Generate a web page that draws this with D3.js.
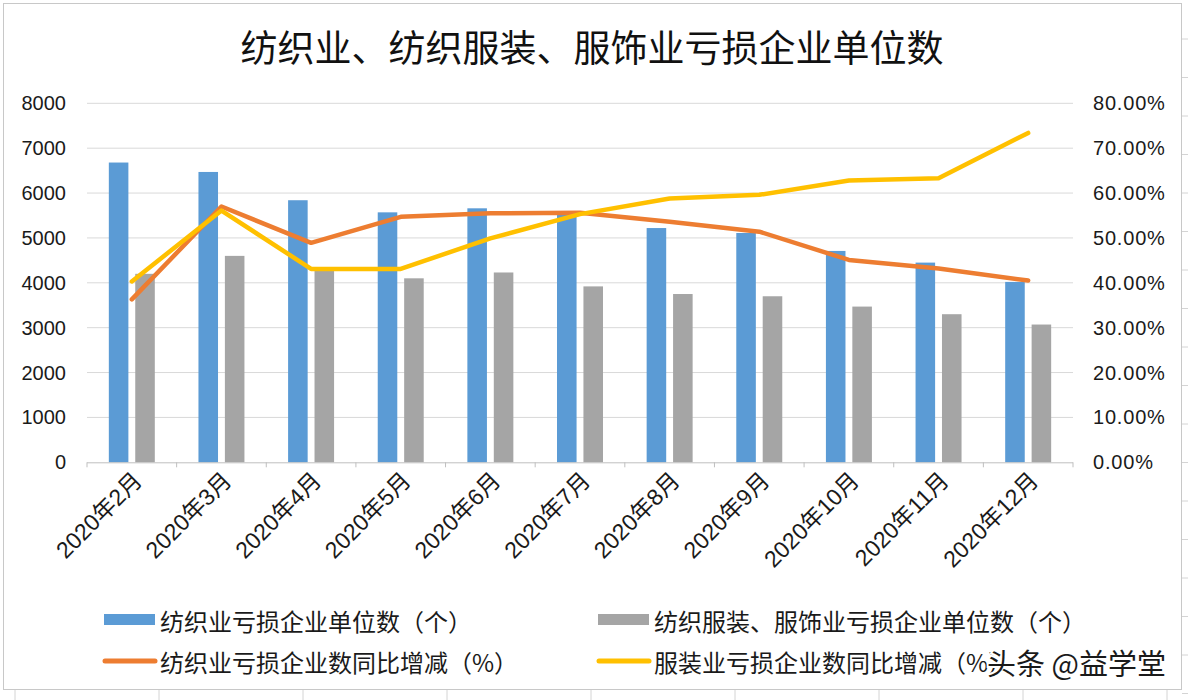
<!DOCTYPE html>
<html><head><meta charset="utf-8">
<script src="https://cdn.jsdelivr.net/npm/d3@7"></script>
<style>
html,body{margin:0;padding:0;background:#fff;}
svg{display:block;}
text{font-family:"Liberation Sans","Noto Sans CJK SC",sans-serif;}
</style></head>
<body>
<svg id="chart" width="1188" height="700"></svg>
<script>
const title = "纺织业、纺织服装、服饰业亏损企业单位数";
const months = ["2020年2月","2020年3月","2020年4月","2020年5月","2020年6月","2020年7月","2020年8月","2020年9月","2020年10月","2020年11月","2020年12月"];
const textileCount = [6680, 6470, 5840, 5570, 5660, 5550, 5220, 5110, 4710, 4450, 4020];
const apparelCount = [4200, 4600, 4300, 4100, 4230, 3920, 3750, 3700, 3470, 3300, 3070];
const textileYoY = [36.3, 57.0, 48.9, 54.7, 55.5, 55.6, 53.6, 51.4, 45.1, 43.2, 40.5];
const apparelYoY = [40.3, 56.1, 43.1, 43.1, 49.9, 55.3, 58.8, 59.6, 62.8, 63.3, 73.4];
const leftTicks = [0,1000,2000,3000,4000,5000,6000,7000,8000];
const rightTicks = [0,10,20,30,40,50,60,70,80];
const seriesNames = ["纺织业亏损企业单位数（个）","纺织服装、服饰业亏损企业单位数（个）","纺织业亏损企业数同比增减（%）","服装业亏损企业数同比增减（%）"];
const colors = ["#5b9bd5","#a5a5a5","#ed7d31","#ffc000"];
const watermark = "头条 @益学堂";

const svg = d3.select("#chart");
const W = 1188, H = 700;
const plot = {left: 87, right: 1073, top: 103.3, bottom: 462.3};

// spreadsheet cell grid outside the chart frame
const gridG = svg.append("g").attr("stroke","#d4d4d4").attr("stroke-width",1);
d3.range(15, W, 144).forEach(x => gridG.append("line").attr("x1",x).attr("x2",x).attr("y1",690).attr("y2",H));
d3.range(39, H, 38.5).forEach(y => gridG.append("line").attr("x1",1182).attr("x2",W).attr("y1",y).attr("y2",y));

// chart frame
svg.append("rect").attr("x",3.5).attr("y",3.5).attr("width",1178).attr("height",686)
  .attr("fill","#fff").attr("stroke","#c8c8c8").attr("stroke-width",1);

// title
svg.append("text").attr("x", 592).attr("y", 46).attr("text-anchor","middle")
  .attr("dominant-baseline","central").attr("font-size",37).attr("fill","#111")
  .style("font-family","'Noto Sans CJK SC',sans-serif").text(title);

const x0 = d3.scaleBand().domain(months).range([plot.left, plot.right]).paddingInner(0.487).paddingOuter(0.2435);
const x1 = d3.scaleBand().domain([0,1]).range([0, x0.bandwidth()]).paddingInner(0.26);
const yL = d3.scaleLinear().domain([0,8000]).range([plot.bottom, plot.top]);
const yR = d3.scaleLinear().domain([0,80]).range([plot.bottom, plot.top]);

// gridlines
svg.append("g").selectAll("line").data(leftTicks.slice(1)).join("line")
  .attr("x1",plot.left).attr("x2",plot.right)
  .attr("y1",d=>yL(d)).attr("y2",d=>yL(d))
  .attr("stroke","#d9d9d9").attr("stroke-width",1);

// left axis labels
svg.append("g").selectAll("text").data(leftTicks).join("text")
  .attr("x",66).attr("y",d=>yL(d)).attr("text-anchor","end").attr("dominant-baseline","central")
  .attr("font-size",20).attr("fill","#1a1a1a").text(d=>d);

// right axis labels
const fmtPct = d3.format(".2f");
svg.append("g").selectAll("text").data(rightTicks).join("text")
  .attr("x",1093).attr("y",d=>yR(d)).attr("text-anchor","start").attr("dominant-baseline","central")
  .attr("font-size",20).attr("fill","#1a1a1a").style("letter-spacing","0.8px")
  .text(d=>fmtPct(d)+"%");

// bars
const barData = [textileCount, apparelCount];
barData.forEach((arr, si) => {
  svg.append("g").selectAll("rect").data(arr).join("rect")
    .attr("x",(d,i)=>x0(months[i]) + x1(si))
    .attr("width",x1.bandwidth())
    .attr("y",d=>yL(d)).attr("height",d=>yL(0)-yL(d))
    .attr("fill",colors[si]);
});

// x axis line + ticks
const axisG = svg.append("g").attr("stroke","#bfbfbf").attr("stroke-width",1);
axisG.append("line").attr("x1",plot.left).attr("x2",plot.right).attr("y1",plot.bottom+0.5).attr("y2",plot.bottom+0.5);
const bounds = d3.range(months.length+1).map(i => plot.left + i*(plot.right-plot.left)/months.length);
axisG.selectAll("line.tk").data(bounds).join("line").attr("class","tk")
  .attr("x1",d=>d).attr("x2",d=>d).attr("y1",plot.bottom).attr("y2",plot.bottom+5);

// x labels
svg.append("g").selectAll("text").data(months).join("text")
  .attr("transform",d=>`translate(${x0(d)+x0.bandwidth()/2+6},${plot.bottom+14}) rotate(-45)`)
  .attr("text-anchor","end").attr("dominant-baseline","central")
  .attr("font-size",23).attr("fill","#1a1a1a").text(d=>d);

// lines
const cx = (i) => x0(months[i]) + x0.bandwidth()/2;
const line = d3.line().x((d,i)=>cx(i)).y(d=>yR(d));
[textileYoY, apparelYoY].forEach((arr, k) => {
  svg.append("path").datum(arr).attr("d",line).attr("fill","none")
    .attr("stroke",colors[2+k]).attr("stroke-width",4.5)
    .attr("stroke-linejoin","round").attr("stroke-linecap","round");
});

// legend
const legendPos = [[104,620],[598,620],[104,661],[598,661]];
seriesNames.forEach((name, i) => {
  const [lx, ly] = legendPos[i];
  if (i < 2) {
    svg.append("rect").attr("x",lx).attr("y",ly-6).attr("width",51).attr("height",11).attr("fill",colors[i]);
  } else {
    svg.append("line").attr("x1",lx+1).attr("x2",lx+51).attr("y1",ly).attr("y2",ly)
      .attr("stroke",colors[i]).attr("stroke-width",5).attr("stroke-linecap","round");
  }
  svg.append("text").attr("x",lx+56).attr("y",ly).attr("dominant-baseline","central")
    .attr("font-size",24).attr("fill","#1a1a1a")
    .style("font-family","'Noto Sans CJK SC',sans-serif").text(name);
});

// watermark
svg.append("text").attr("x",1166).attr("y",662).attr("text-anchor","end").attr("dominant-baseline","central")
  .attr("font-size",29).attr("fill","#1a1a1a").attr("stroke","#fff").attr("stroke-width",4)
  .attr("paint-order","stroke").style("font-family","'Noto Sans CJK SC',sans-serif").text(watermark);
</script>
</body></html>
